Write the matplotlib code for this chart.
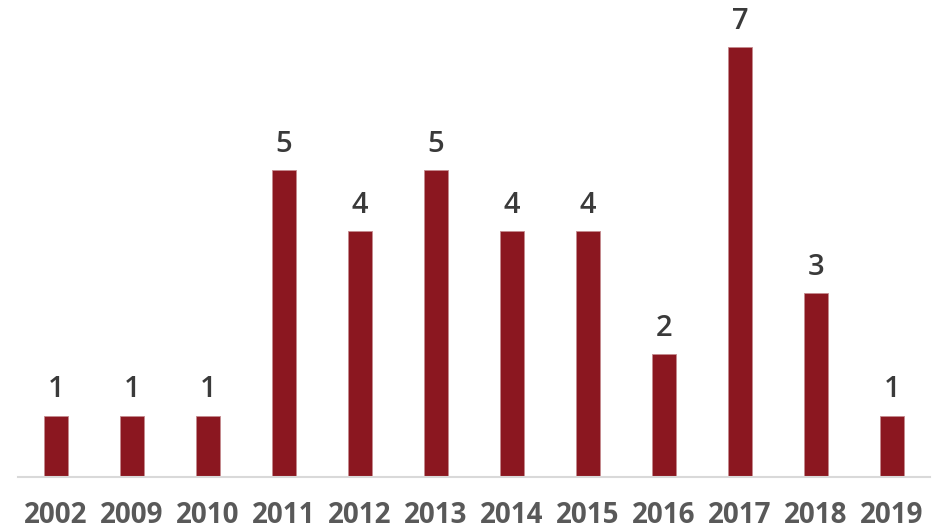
import matplotlib
matplotlib.use('Agg')
import matplotlib.pyplot as plt

years = ['2002', '2009', '2010', '2011', '2012', '2013', '2014', '2015',
         '2016', '2017', '2018', '2019']
counts = [1, 1, 1, 5, 4, 5, 4, 4, 2, 7, 3, 1]

bar_color = '#8B1720'

fig = plt.figure(figsize=(9.44, 5.31), dpi=100)
ax = fig.add_axes([0.019, 0.1017, 0.966, 0.8983])

x = list(range(len(years)))
ax.bar(x, counts, width=0.32, color=bar_color, edgecolor='#c48a8e', linewidth=0.6)

for xi, v in zip(x, counts):
    ax.annotate(str(v), (xi, v), xytext=(0, 8), textcoords='offset points',
                ha='center', va='bottom', fontsize=21, color='#3a3a3a',
                family='Open Sans', fontweight='semibold')

ax.set_xlim(-0.5, 11.5)
ax.set_ylim(0, 7.77)
ax.set_xticks(x)
ax.set_xticklabels(years, fontsize=20, fontweight='bold', color='#595959',
                   family='Open Sans')
ax.tick_params(axis='x', length=0, pad=17)
ax.set_yticks([])

for side in ['top', 'right', 'left']:
    ax.spines[side].set_visible(False)
ax.spines['bottom'].set_color('#d9d9d9')
ax.spines['bottom'].set_linewidth(1.5)

fig.savefig('out.png', dpi=100)
